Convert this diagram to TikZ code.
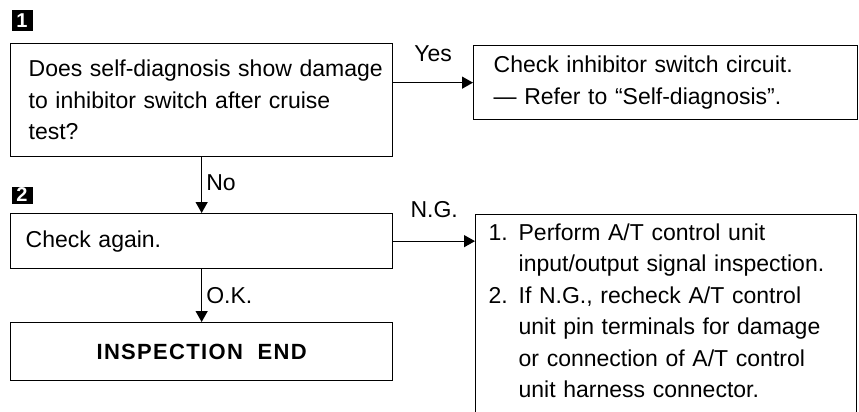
\documentclass[tikz,border=0pt]{standalone}
\usepackage{fontspec}
\setmainfont{Liberation Sans}
\usetikzlibrary{arrows.meta,positioning}

\begin{document}
\begin{tikzpicture}[x=1pt,y=-1pt,line width=1.3pt,
        >={Triangle[length=11pt,width=12pt]},
        font=\fontsize{23}{31.5}\selectfont,
        box/.style={draw,anchor=north west,align=left,inner ysep=6pt},
        tag/.style={fill=black,text=white,font=\fontsize{20}{20}\selectfont\bfseries,
                    minimum size=21pt,inner sep=0pt},
        lbl/.style={inner sep=4pt}]
        \useasboundingbox (0,0) rectangle (859,412);
        \clip (0,0) rectangle (859,412);
        % step 1
        \node[tag] (tag1) at (22,21) {1};
        \node[box,text width=346pt,inner xsep=18pt,minimum height=113pt] (q1) at (10,43)
          {\mbox{Does self-diagnosis show damage}\\to inhibitor switch after cruise\\test?};
        \node[box,text width=344pt,inner xsep=20pt,minimum height=74pt] (yes) at (473,45)
          {Check inhibitor switch circuit.\\--- Refer to ``Self-diagnosis''.};
        % step 2
        \node[tag,minimum height=17pt] (tag2) at (22,195) {2};
        \node[box,text width=352pt,inner xsep=15pt,minimum height=55pt] (chk) at (10,213)
          {Check again.};
        \node[box,text width=352pt,inner xsep=15pt,minimum height=58pt,align=center,
              font=\fontsize{22}{31.5}\selectfont\bfseries\addfontfeatures{LetterSpace=6}] (done) at (10,322)
          {INSPECTION\ \ END};
        \node[box,text width=355pt,inner xsep=13pt,inner ysep=9pt,text depth=200pt] (ng) at (475,214)
          {\makebox[30pt][l]{1.}Perform A/T control unit\\
           \hspace*{30pt}input/output signal inspection.\\
           \makebox[30pt][l]{2.}If N.G., recheck A/T control\\
           \hspace*{30pt}unit pin terminals for damage\\
           \hspace*{30pt}or connection of A/T control\\
           \hspace*{30pt}unit harness connector.};
        % connectors
        \draw[->] (q1.east |- yes.west) -- node[lbl,above=16pt] (lyes) {Yes} (yes.west);
        \draw[->] (q1.south) -- node[lbl,right,pos=0.45] (lno) {No} (chk.north);
        \draw[->] (chk.east) -- node[lbl,above=19pt] (lng) {N.G.} (chk.east -| ng.west);
        \draw[->] (chk.south) -- node[lbl,right] (lok) {O.K.} (done.north);
      \end{tikzpicture}
\end{document}
